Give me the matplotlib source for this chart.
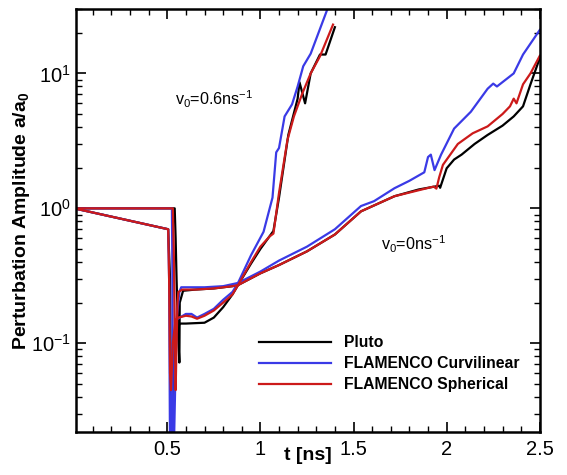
import numpy as np
import matplotlib
matplotlib.use('Agg')
import matplotlib.pyplot as plt
from matplotlib.ticker import MultipleLocator, LogLocator

plt.rcParams['font.family'] = ['Liberation Sans', 'DejaVu Sans']
plt.rcParams['mathtext.default'] = 'regular'

# ---- data ----
# v0 = 0 runs (flat at 1 before the shock)
pluto_v0_t = [0.0, 0.54, 0.545, 0.55, 0.558, 0.565, 0.567, 0.585, 0.65, 0.75, 0.85, 0.88,
              1.0, 1.1, 1.25, 1.4, 1.54, 1.72, 1.85, 1.96, 1.965, 2.0, 2.04, 2.08, 2.15,
              2.22, 2.30, 2.36, 2.41, 2.45, 2.5]
pluto_v0_a = [1.0, 1.0, 0.6, 0.3, 0.12, 0.072, 0.2, 0.245, 0.25, 0.255, 0.265, 0.27,
              0.33, 0.38, 0.48, 0.64, 0.95, 1.23, 1.38, 1.47, 1.42, 1.98, 2.3, 2.5, 3.0,
              3.5, 4.1, 4.8, 5.7, 8.3, 13.0]

curv_v0_t = [0.0, 0.525, 0.528, 0.53, 0.535, 0.55, 0.565, 0.575, 0.6, 0.7, 0.8, 0.88,
             1.0, 1.1, 1.25, 1.4, 1.54, 1.61, 1.72, 1.80, 1.88, 1.90, 1.915, 1.935,
             1.97, 2.04, 2.13, 2.22, 2.25, 2.27, 2.36, 2.41, 2.5]
curv_v0_a = [1.0, 1.0, 0.3, 0.015, 0.015, 0.15, 0.24, 0.26, 0.26, 0.26, 0.265, 0.28,
             0.34, 0.41, 0.52, 0.7, 1.04, 1.13, 1.41, 1.6, 1.85, 2.4, 2.5, 1.92,
             2.5, 3.9, 5.2, 7.7, 8.4, 8.0, 10.0, 13.8, 21.0]

sph_v0_t = [0.0, 0.53, 0.535, 0.54, 0.545, 0.55, 0.555, 0.56, 0.58, 0.65, 0.75, 0.85,
            0.88, 1.0, 1.1, 1.25, 1.4, 1.54, 1.72, 1.93, 1.945, 1.96, 1.98, 2.06, 2.14,
            2.22, 2.30, 2.34, 2.36, 2.375, 2.41, 2.45, 2.5]
sph_v0_a = [1.0, 1.0, 0.5, 0.15, 0.045, 0.1, 0.2, 0.24, 0.25, 0.25, 0.255, 0.265,
            0.27, 0.33, 0.38, 0.48, 0.64, 0.95, 1.23, 1.45, 1.40, 1.7, 2.1, 3.0, 3.6,
            4.05, 5.0, 5.7, 6.5, 6.0, 8.3, 10.0, 13.5]

# v0 = 0.6 ns^-1 runs (decreasing before the shock)
pluto_v06_t = [0.0, 0.505, 0.515, 0.52, 0.525, 0.535, 0.55, 0.57, 0.6, 0.7, 0.75, 0.8,
               0.85, 0.88, 0.95, 1.0, 1.07, 1.1, 1.15, 1.2, 1.21, 1.24, 1.27, 1.32,
               1.35, 1.40]
pluto_v06_a = [1.0, 0.70, 0.3, 0.03, 0.029, 0.08, 0.13, 0.14, 0.14, 0.142, 0.155, 0.185,
               0.23, 0.27, 0.39, 0.5, 0.68, 1.2, 3.5, 6.5, 8.6, 6.0, 10.0, 13.8,
               13.8, 22.0]

curv_v06_t = [0.0, 0.505, 0.51, 0.515, 0.52, 0.53, 0.55, 0.6, 0.63, 0.66, 0.7, 0.75,
              0.8, 0.85, 0.88, 0.95, 1.017, 1.065, 1.085, 1.1, 1.13, 1.17, 1.2, 1.23,
              1.27, 1.36]
curv_v06_a = [1.0, 0.70, 0.3, 0.015, 0.015, 0.1, 0.15, 0.165, 0.165, 0.155, 0.165, 0.18,
              0.21, 0.24, 0.28, 0.45, 0.67, 1.2, 2.6, 2.8, 4.8, 5.9, 8.0, 11.3,
              14.0, 30.0]

sph_v06_t = [0.0, 0.505, 0.51, 0.515, 0.52, 0.53, 0.545, 0.56, 0.6, 0.63, 0.66, 0.7,
             0.75, 0.8, 0.85, 0.88, 0.95, 1.0, 1.05, 1.07, 1.1, 1.145, 1.18, 1.225,
             1.27, 1.32, 1.39]
sph_v06_a = [1.0, 0.70, 0.3, 0.06, 0.045, 0.1, 0.15, 0.155, 0.16, 0.158, 0.152, 0.16,
             0.175, 0.2, 0.23, 0.27, 0.4, 0.52, 0.62, 0.65, 1.3, 3.2, 4.8, 7.1,
             10.0, 13.4, 23.0]

labels = ['Pluto', 'FLAMENCO Curvilinear', 'FLAMENCO Spherical']
colors = ['black', '#3a3ae6', '#cc1a1a']

fig = plt.figure(figsize=(5.67, 4.75), dpi=100)
ax = fig.add_axes([0.134, 0.0905, 0.818, 0.8905])

runs = [(pluto_v0_t, pluto_v0_a, pluto_v06_t, pluto_v06_a),
        (curv_v0_t, curv_v0_a, curv_v06_t, curv_v06_a),
        (sph_v0_t, sph_v0_a, sph_v06_t, sph_v06_a)]
for (t0, a0, t6, a6), lab, c in zip(runs, labels, colors):
    ax.plot(t0, a0, color=c, lw=1.6, label=lab)
    ax.plot(t6, a6, color=c, lw=1.6)

ax.set_yscale('log')
ax.set_xlim(0.01, 2.5)
ax.set_ylim(0.022, 30)
ax.xaxis.set_minor_locator(MultipleLocator(0.1))
ax.set_xticks([0.5, 1, 1.5, 2, 2.5])
ax.set_xticklabels(['0.5', '1', '1.5', '2', '2.5'])
ax.yaxis.set_minor_locator(LogLocator(subs=np.arange(2, 10)))
ax.tick_params(which='both', direction='in', top=True, right=True, labelsize=14.5)
ax.tick_params(which='major', length=7, width=1.2)
ax.tick_params(which='minor', length=4, width=1.0)
ax.tick_params(axis='x', pad=6)
for s in ax.spines.values():
    s.set_linewidth(1.8)

ax.set_xlabel('t [ns]', fontsize=14, fontweight='bold')
ax.xaxis.set_label_coords(0.5, -0.036)
ax.set_ylabel('Perturbation Amplitude a/a$_0$', fontsize=14, fontweight='bold')
ax.yaxis.set_label_coords(-0.094, 0.5)

ax.text(0.543, 6.4, 'v$_0$=0.6ns$^{-1}$', fontsize=11.6, ha='left', va='center')
ax.text(1.645, 0.54, 'v$_0$=0ns$^{-1}$', fontsize=11.6, ha='left', va='center')

ax.legend(loc='upper left', bbox_to_anchor=(0.378, 0.247), frameon=False,
          prop={'weight': 'bold', 'size': 11.3}, handlelength=4.6, handletextpad=0.8,
          labelspacing=0.38, borderpad=0)

fig.savefig('out.png', dpi=100)
